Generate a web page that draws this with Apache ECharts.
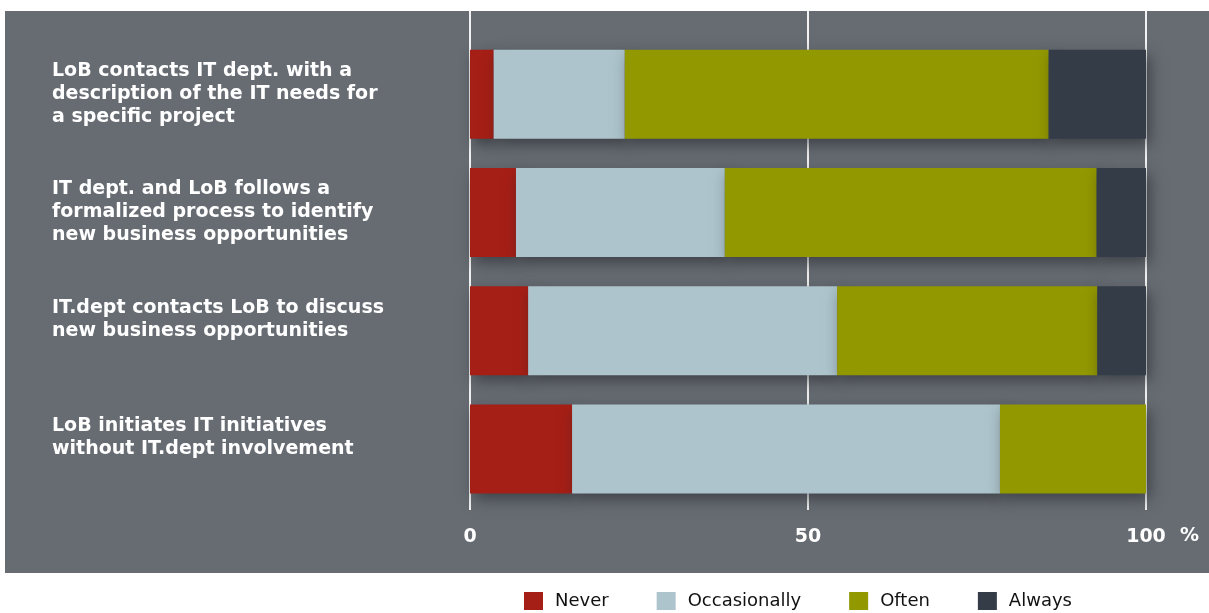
<!DOCTYPE html>
<html>
<head>
<meta charset="utf-8">
<script src="https://cdn.jsdelivr.net/npm/echarts@6/dist/echarts.min.js"></script>
<style>
  html, body { margin: 0; padding: 0; background: #ffffff; }
  #chart { width: 1209px; height: 613px; }
</style>
</head>
<body>
<div id="chart"></div>
<script>
// Survey statements (top to bottom)
const categories = [
  'LoB contacts IT dept. with a\ndescription of the IT needs for\na specific project',
  'IT dept. and LoB follows a\nformalized process to identify\nnew business opportunities',
  'IT.dept contacts LoB to discuss\nnew business opportunities',
  'LoB initiates IT initiatives\nwithout IT.dept involvement'
];
const seriesNames = ['Never', 'Occasionally', 'Often', 'Always'];
// Share of answers, percent
const never        = [3.5, 6.8, 8.6, 15.1];
const occasionally = [19.4, 30.9, 45.7, 63.3];
const often        = [62.7, 55.0, 38.5, 21.6];
const always       = [14.4, 7.3, 7.2, 0];
const xTicks = [0, 50, 100];

const colors = ['#a61f16', '#adc4cc', '#929800', '#343d47'];
const values = [never, occasionally, often, always];
const font = '"DejaVu Sans", "Open Sans", sans-serif';

const chart = echarts.init(document.getElementById('chart'));

const barSeries = seriesNames.map((name, i) => ({
  name: name,
  type: 'bar',
  stack: 'total',
  xAxisIndex: 0,
  yAxisIndex: 0,
  barWidth: 89,
  data: values[i],
  itemStyle: {
    color: colors[i],
    shadowColor: 'rgba(30,32,36,0.55)',
    shadowBlur: 14,
    shadowOffsetX: 4,
    shadowOffsetY: 6
  },
  emphasis: { disabled: true }
}));

chart.setOption({
  animation: false,
  color: colors,
  textStyle: { fontFamily: font },
  graphic: [{
    type: 'rect',
    z: -10,
    silent: true,
    shape: { x: 5, y: 11, width: 1204, height: 562 },
    style: { fill: '#676c73' }
  }],
  legend: {
    data: seriesNames,
    left: 524,
    top: 592,
    padding: 0,
    icon: 'rect',
    itemWidth: 19,
    itemHeight: 18,
    itemGap: 48,
    textStyle: { color: '#111', fontSize: 18, fontFamily: font, padding: [0, 0, 0, 7] }
  },
  grid: [
    { left: 470, width: 676, top: 35, height: 473 },
    { left: 470, width: 676, top: 11, height: 499 }
  ],
  xAxis: [
    { gridIndex: 0, type: 'value', min: 0, max: 100, show: false },
    {
      gridIndex: 1, type: 'value', min: 0, max: 100, interval: 50,
      axisLine: { show: false },
      axisTick: { show: false },
      splitLine: { show: true, lineStyle: { color: '#f2f2f2', width: 2 } },
      axisLabel: {
        color: '#ffffff', fontSize: 19, fontWeight: 'bold', margin: 18,
        formatter: v => xTicks.includes(v) ? String(v) : ''
      },
      name: '%',
      nameLocation: 'end',
      nameGap: 34,
      nameTextStyle: {
        color: '#ffffff', fontSize: 19, fontWeight: 'bold',
        verticalAlign: 'top', padding: [17, 0, 0, 0]
      }
    }
  ],
  yAxis: [
    {
      gridIndex: 0, type: 'category', inverse: true, data: categories,
      axisLine: { show: false },
      axisTick: { show: false },
      axisLabel: {
        color: '#ffffff', fontSize: 19, fontWeight: 'bold',
        align: 'left', margin: 418, lineHeight: 23,
        // pad every label to three lines so the first line sits near the bar top
        formatter: v => {
          const lines = v.split('\n');
          while (lines.length < 3) lines.push(' ');
          return lines.join('\n');
        }
      }
    },
    { gridIndex: 1, type: 'category', data: [''], show: false }
  ],
  series: barSeries
});
</script>
</body>
</html>
